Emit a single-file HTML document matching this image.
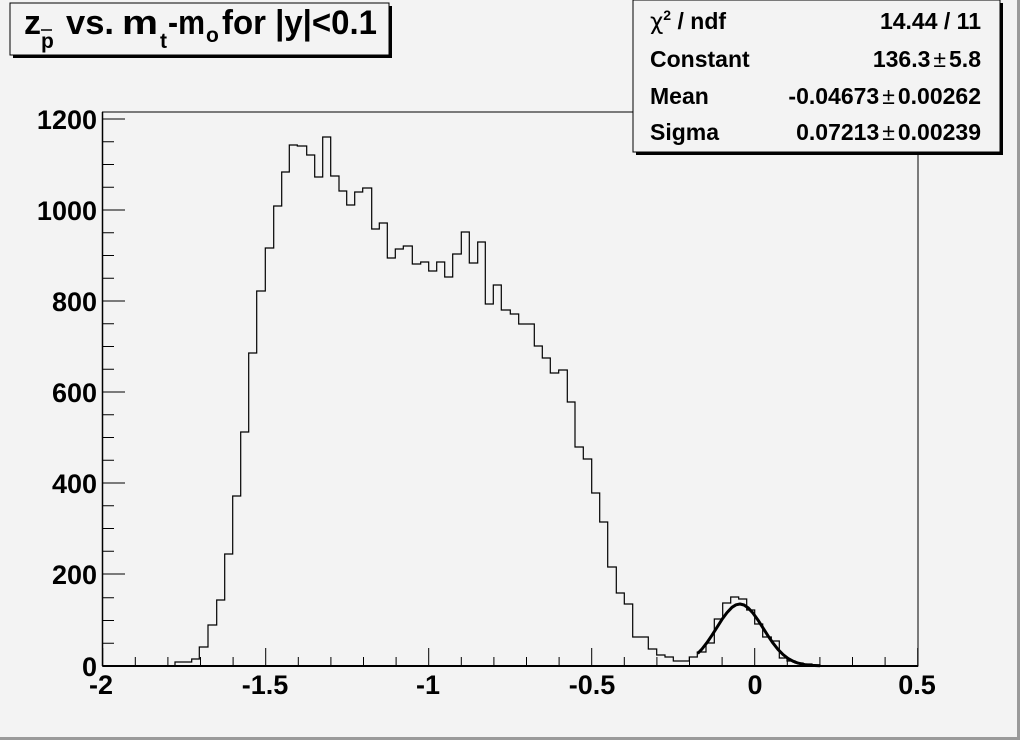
<!DOCTYPE html>
<html><head><meta charset="utf-8"><style>
html,body{margin:0;padding:0;background:#f3f3f3}
svg{display:block}
text{font-family:"Liberation Sans",Arial,sans-serif;font-weight:bold;fill:#000}
</style></head><body>
<svg width="1020" height="740" viewBox="0 0 1020 740" xmlns="http://www.w3.org/2000/svg">
<rect x="0" y="0" width="1020" height="740" fill="#f3f3f3"/>
<rect x="1017" y="0" width="3" height="740" fill="#9a9a9a"/>
<rect x="0" y="737" width="1020" height="3" fill="#9a9a9a"/>
<rect x="102.5" y="112" width="815.5" height="554" fill="none" stroke="#000" stroke-width="1"/>
<path d="M103,666 H175 V662 H191.7 V659 H199.3 V647 H208 V625 H216.7 V600 H224.7 V554 H232.7 V496 H240.7 V432 H248.7 V353 H256.7 V291 H265.3 V248 H273.7 V206 H281.7 V172 H289.3 V145 H297.3 V146 H306.7 V155 H314.7 V177 H322.7 V137 H330.7 V176 H339 V191 H346.7 V205 H354.7 V192 H362.7 V188 H371.7 V229 H379.3 V223 H387.3 V258 H395.3 V249 H403.3 V246 H412.3 V264 H420.7 V262 H428.7 V271 H436.7 V262 H444.7 V277 H452.7 V254 H461.3 V232 H469.3 V263 H477.7 V242 H485.3 V304 H493.3 V285 H501.3 V310 H510.3 V314 H518.7 V324 H534.3 V346 H542.3 V358 H550.3 V373 H558.7 V370 H567.3 V402 H575 V447 H583.3 V459 H591.7 V493 H599.7 V522 H607.7 V567 H616.3 V593 H624.3 V604 H632.7 V637 H648.3 V649 H656.7 V655 H665 V657 H673.3 V661 H689.3 V657 H697.3 V652 H706 V643 H714.3 V619 H722.7 V603 H730.7 V597 H738.7 V599 H746.7 V610 H754.7 V624 H762.7 V637 H771.3 V641 H779.3 V658 H787 V661 H795 V663 H803 V664 H812 V665 H820 V666" fill="none" stroke="#000" stroke-width="1.2"/>
<polyline points="697.7,653.5 702,649 707,642.6 712,635.2 717,627.3 722,619.4 727,612.6 732,607.3 736,604.8 740,604 744,605 748,607.7 753,613.1 758,620.1 763,627.9 768,635.8 773,643.1 778,649.4 783,654.5 788,658.4 793,661.2 798,663.1 805,664.7 812,665.4 820,665.8" fill="none" stroke="#000" stroke-width="3" stroke-linejoin="round"/>
<line x1="102.5" y1="666" x2="918" y2="666" stroke="#000" stroke-width="2"/>
<line x1="102.5" y1="112" x2="102.5" y2="666" stroke="#000" stroke-width="1.5"/>
<g stroke="#000" stroke-width="1">
<line x1="102.7" y1="666" x2="102.7" y2="648"/>
<line x1="135.3" y1="666" x2="135.3" y2="657"/>
<line x1="167.9" y1="666" x2="167.9" y2="657"/>
<line x1="200.5" y1="666" x2="200.5" y2="657"/>
<line x1="233.1" y1="666" x2="233.1" y2="657"/>
<line x1="265.7" y1="666" x2="265.7" y2="648"/>
<line x1="298.3" y1="666" x2="298.3" y2="657"/>
<line x1="330.9" y1="666" x2="330.9" y2="657"/>
<line x1="363.5" y1="666" x2="363.5" y2="657"/>
<line x1="396.1" y1="666" x2="396.1" y2="657"/>
<line x1="428.7" y1="666" x2="428.7" y2="648"/>
<line x1="461.3" y1="666" x2="461.3" y2="657"/>
<line x1="493.9" y1="666" x2="493.9" y2="657"/>
<line x1="526.5" y1="666" x2="526.5" y2="657"/>
<line x1="559.1" y1="666" x2="559.1" y2="657"/>
<line x1="591.7" y1="666" x2="591.7" y2="648"/>
<line x1="624.3" y1="666" x2="624.3" y2="657"/>
<line x1="656.9" y1="666" x2="656.9" y2="657"/>
<line x1="689.5" y1="666" x2="689.5" y2="657"/>
<line x1="722.1" y1="666" x2="722.1" y2="657"/>
<line x1="754.7" y1="666" x2="754.7" y2="648"/>
<line x1="787.3" y1="666" x2="787.3" y2="657"/>
<line x1="819.9" y1="666" x2="819.9" y2="657"/>
<line x1="852.5" y1="666" x2="852.5" y2="657"/>
<line x1="885.1" y1="666" x2="885.1" y2="657"/>
<line x1="917.7" y1="666" x2="917.7" y2="648"/>
<line x1="103" y1="574" x2="125" y2="574"/>
<line x1="103" y1="483" x2="125" y2="483"/>
<line x1="103" y1="392" x2="125" y2="392"/>
<line x1="103" y1="301" x2="125" y2="301"/>
<line x1="103" y1="210" x2="125" y2="210"/>
<line x1="103" y1="119" x2="125" y2="119"/>
<line x1="103" y1="643.25" x2="114" y2="643.25"/>
<line x1="103" y1="620.5" x2="114" y2="620.5"/>
<line x1="103" y1="597.75" x2="114" y2="597.75"/>
<line x1="103" y1="551.25" x2="114" y2="551.25"/>
<line x1="103" y1="528.5" x2="114" y2="528.5"/>
<line x1="103" y1="505.75" x2="114" y2="505.75"/>
<line x1="103" y1="460.25" x2="114" y2="460.25"/>
<line x1="103" y1="437.5" x2="114" y2="437.5"/>
<line x1="103" y1="414.75" x2="114" y2="414.75"/>
<line x1="103" y1="369.25" x2="114" y2="369.25"/>
<line x1="103" y1="346.5" x2="114" y2="346.5"/>
<line x1="103" y1="323.75" x2="114" y2="323.75"/>
<line x1="103" y1="278.25" x2="114" y2="278.25"/>
<line x1="103" y1="255.5" x2="114" y2="255.5"/>
<line x1="103" y1="232.75" x2="114" y2="232.75"/>
<line x1="103" y1="187.25" x2="114" y2="187.25"/>
<line x1="103" y1="164.5" x2="114" y2="164.5"/>
<line x1="103" y1="141.75" x2="114" y2="141.75"/>
</g>
<g font-size="27" text-anchor="end">
<text x="97" y="676">0</text>
<text x="97" y="584">200</text>
<text x="97" y="493">400</text>
<text x="97" y="402">600</text>
<text x="97" y="311">800</text>
<text x="97" y="220">1000</text>
<text x="97" y="129">1200</text>
</g>
<g font-size="27" text-anchor="middle">
<text x="101" y="694">-2</text>
<text x="265" y="694">-1.5</text>
<text x="428" y="694">-1</text>
<text x="592" y="694">-0.5</text>
<text x="755" y="694">0</text>
<text x="917" y="694">0.5</text>
</g>
<rect x="13" y="6" width="379" height="52" fill="#000"/>
<rect x="10" y="3" width="379" height="52" fill="#f3f3f3" stroke="#000" stroke-width="1"/>
<text x="24" y="34" font-size="34">z</text>
<text x="41" y="48" font-size="21">p</text>
<line x1="41" y1="30" x2="52" y2="30" stroke="#000" stroke-width="1.5"/>
<text x="66" y="34" font-size="34" textLength="48" lengthAdjust="spacingAndGlyphs">vs.</text>
<text x="122" y="34" font-size="34" textLength="36" lengthAdjust="spacingAndGlyphs">m</text>
<text x="160" y="48" font-size="21">t</text>
<text x="168" y="34" font-size="34" textLength="37" lengthAdjust="spacingAndGlyphs">-m</text>
<text x="206" y="42" font-size="21">o</text>
<text x="222" y="34" font-size="34" textLength="155" lengthAdjust="spacingAndGlyphs">for |y|&lt;0.1</text>
<rect x="636" y="3" width="367" height="152" fill="#000"/>
<rect x="633" y="0" width="367" height="152" fill="#f3f3f3" stroke="#000" stroke-width="1"/>
<g font-size="23">
<text x="650" y="29"><tspan font-family="'DejaVu Sans',sans-serif" font-weight="normal">χ</tspan><tspan font-size="14" dy="-9">2</tspan><tspan dy="9"> / ndf</tspan></text>
<text x="650" y="67">Constant</text>
<text x="650" y="104">Mean</text>
<text x="650" y="140">Sigma</text>
</g>
<g font-size="23" text-anchor="end">
<text x="981" y="29">14.44 / 11</text>
<text x="981" y="67">136.3<tspan font-weight="normal" dx="3">±</tspan><tspan dx="3">5.8</tspan></text>
<text x="981" y="104">-0.04673<tspan font-weight="normal" dx="3">±</tspan><tspan dx="3">0.00262</tspan></text>
<text x="981" y="140">0.07213<tspan font-weight="normal" dx="3">±</tspan><tspan dx="3">0.00239</tspan></text>
</g>
</svg>
</body></html>
